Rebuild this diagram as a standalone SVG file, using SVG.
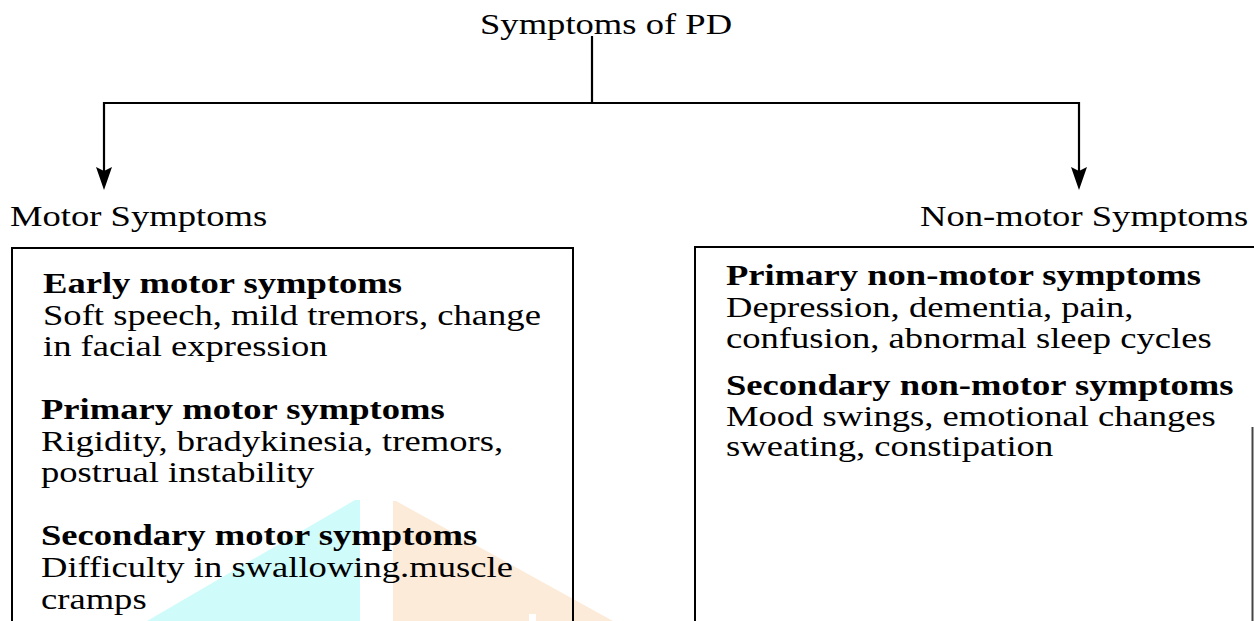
<svg xmlns="http://www.w3.org/2000/svg" width="1254" height="621" viewBox="0 0 1254 621">
<style>
  text { font-family: "Liberation Serif", "Times New Roman", serif; font-size: 30px; fill: #000; }
  .b { font-weight: bold; }
  .line { stroke: #000; stroke-width: 2.2; fill: none; }
  .box { stroke: #000; stroke-width: 2; fill: none; }
  .head { fill: #000; stroke: none; }
</style>
<rect x="0" y="0" width="1254" height="621" fill="#fff"/>
<g id="watermark">
  <polygon points="355,500 360,500 360,621 147,621" fill="#cffbfb"/>
  <polygon points="393,501 396,501 613,621 393,621" fill="#fdebd9"/>
  <rect x="529" y="614" width="7" height="7" fill="#fff"/>
</g>
<g id="connectors">
  <line class="line" x1="592" y1="36" x2="592" y2="103"/>
  <line class="line" x1="104" y1="103" x2="1080" y2="103"/>
  <line class="line" x1="104" y1="102" x2="104" y2="176"/>
  <line class="line" x1="1079" y1="102" x2="1079" y2="176"/>
  <path class="head" d="M104,190 L96,167 L104,171 L112,167 Z"/>
  <path class="head" d="M1079,190 L1071,167 L1079,171 L1087,167 Z"/>
</g>
<g id="root">
  <g transform="translate(480,0) scale(1.22,1)"><text x="0" y="34">Symptoms of PD</text></g>
</g>
<g id="motor-label">
  <g transform="translate(10,0) scale(1.22,1)"><text x="0" y="226">Motor Symptoms</text></g>
</g>
<g id="nonmotor-label">
  <g transform="translate(920,0) scale(1.22,1)"><text x="0" y="226">Non-motor Symptoms</text></g>
</g>
<g id="motor-box">
  <rect class="box" x="12" y="248" width="561" height="400"/>
  <g transform="translate(43,0) scale(1.22,1)">
    <text class="b" x="0" y="293">Early motor symptoms</text>
    <text x="0" y="325">Soft speech, mild tremors, change</text>
    <text x="0" y="356">in facial expression</text>
  </g>
  <g transform="translate(41,0) scale(1.22,1)">
    <text class="b" x="0" y="419">Primary motor symptoms</text>
    <text x="0" y="451">Rigidity, bradykinesia, tremors,</text>
    <text x="0" y="482">postrual instability</text>
    <text class="b" x="0" y="545">Secondary motor symptoms</text>
    <text x="0" y="577">Difficulty in swallowing.muscle</text>
    <text x="0" y="609">cramps</text>
  </g>
</g>
<g id="nonmotor-box">
  <path class="box" d="M695,640 L695,247 L1256,247"/>
  <line x1="1252.5" y1="427" x2="1252.5" y2="621" stroke="#444" stroke-width="2"/>
  <g transform="translate(726,0) scale(1.22,1)">
    <text class="b" x="0" y="285">Primary non-motor symptoms</text>
    <text x="0" y="317">Depression, dementia, pain,</text>
    <text x="0" y="348">confusion, abnormal sleep cycles</text>
    <text class="b" x="0" y="395">Secondary non-motor symptoms</text>
    <text x="0" y="426">Mood swings, emotional changes</text>
    <text x="0" y="456">sweating, constipation</text>
  </g>
</g>
</svg>
